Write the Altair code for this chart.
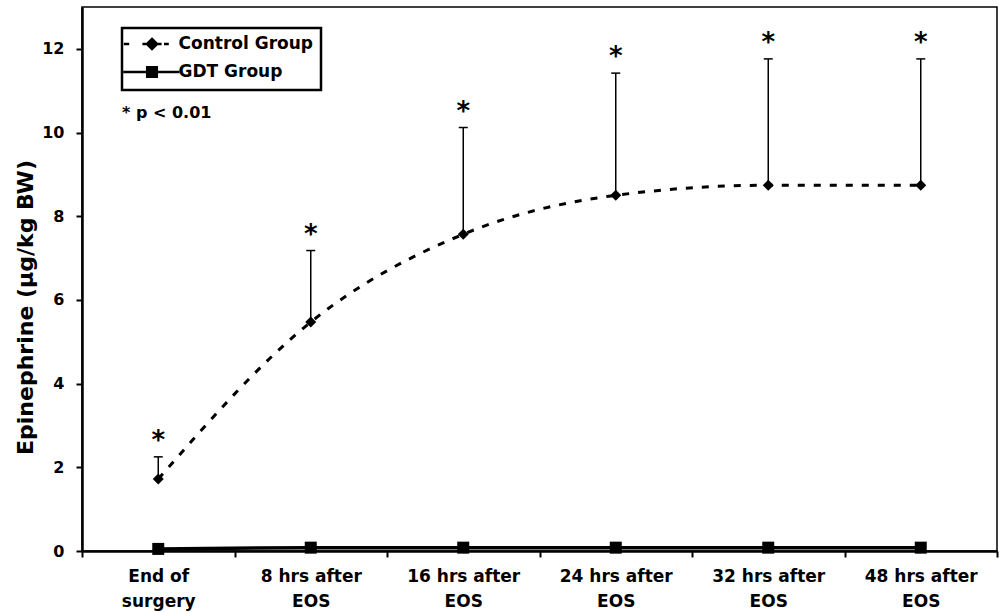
import altair as alt
import pandas as pd

categories = ["End of\nsurgery", "8 hrs after\nEOS", "16 hrs after\nEOS",
              "24 hrs after\nEOS", "32 hrs after\nEOS", "48 hrs after\nEOS"]
control_mean = [1.72, 5.47, 7.57, 8.50, 8.74, 8.74]
control_upper = [2.25, 7.18, 10.12, 11.42, 11.76, 11.76]
gdt_mean = [0.05, 0.08, 0.08, 0.08, 0.08, 0.08]
series_names = ["Control Group", "GDT Group"]
y_ticks = [0, 2, 4, 6, 8, 10, 12]
annotation = "* p < 0.01"

FONT = "DejaVu Sans"

ctrl = pd.DataFrame({"cat": categories, "mean": control_mean, "upper": control_upper,
                     "series": series_names[0]})
gdt = pd.DataFrame({"cat": categories, "mean": gdt_mean, "series": series_names[1]})

xscale = alt.Scale(type="band", domain=categories, paddingInner=0, paddingOuter=0)
yscale = alt.Scale(domain=[0, 13], nice=False, zero=True)

x_axis = alt.Axis(title=None, tickBand="extent", tickSize=6, tickWidth=2, domainWidth=2.5,
                  labelExpr="isValid(datum.value) ? split(datum.value, '\\n') : ''",
                  labelAngle=0, labelPadding=11,
                  labelLineHeight=25, labelFontSize=17, labelBaseline="top")
y_axis = alt.Axis(values=y_ticks, grid=False, tickSize=6, tickWidth=2, domainWidth=2.5,
                  labelPadding=12, labelFontSize=16,
                  title="Epinephrine (µg/kg BW)", titleFontSize=22, titleFont=FONT,
                  titleFontWeight="bold", titleColor="black", titleX=-57, titleY=300,
                  titleAngle=-90, titleAlign="center", titleBaseline="middle")


def X(band=True):
    if band:
        return alt.X("cat:N", scale=xscale, sort=categories, axis=x_axis, bandPosition=0.5)
    return alt.X("cat:N", scale=xscale, sort=categories, axis=x_axis)


def Y(field):
    return alt.Y(field, scale=yscale, axis=y_axis)


ctrl_line = alt.Chart(ctrl).mark_line(color="black", strokeWidth=3, strokeDash=[7, 9],
                                      interpolate="monotone").encode(
    x=X(), y=Y("mean:Q"))

err_rule = alt.Chart(ctrl).mark_rule(color="black", strokeWidth=1.5).encode(
    x=X(), y=Y("mean:Q"), y2="upper:Q")

err_cap = alt.Chart(ctrl).mark_tick(color="black", thickness=1.5, size=9, opacity=1).encode(
    x=X(band=False), y=Y("upper:Q"))

stars = alt.Chart(ctrl).mark_text(text="*", font=FONT, fontSize=26, fontWeight="bold",
                                  color="black", baseline="alphabetic", dy=-8).encode(
    x=X(), y=Y("upper:Q"))

ctrl_pts = alt.Chart(ctrl).mark_point(shape="diamond", filled=True, color="black",
                                      size=120, opacity=1).encode(
    x=X(), y=Y("mean:Q"))

gdt_line = alt.Chart(gdt).mark_line(color="black", strokeWidth=3.5).encode(
    x=X(), y=Y("mean:Q"))

gdt_pts = alt.Chart(gdt).mark_point(shape="square", filled=True, color="black",
                                    size=144, opacity=1).encode(
    x=X(), y=Y("mean:Q"))

# legend symbols: custom stroked paths (line pieces + marker drawn as nested outlines)
path_ctrl = ("M-4.7,0H-3.8M-1.6,0H-1.0M0.95,0H1.6M2.0,0H2.8"
             "M0,-0.85L0.85,0L0,0.85L-0.85,0Z"
             "M0,-0.45L0.45,0L0,0.45L-0.45,0Z"
             "M-0.2,0H0.2")
path_gdt = ("M-4.8,0H4.6"
            "M-0.8,-0.8H0.8V0.8H-0.8Z"
            "M-0.4,-0.4H0.4V0.4H-0.4Z")
legend_df = pd.concat([ctrl[["cat", "series"]], gdt[["cat", "series"]]])
legend_layer = alt.Chart(legend_df).mark_point(filled=False, color="black",
                                               strokeWidth=2.5, opacity=1, size=144).encode(
    x=X(), y=alt.value(0),
    shape=alt.Shape("series:N",
                    scale=alt.Scale(domain=series_names, range=[path_ctrl, path_gdt]),
                    legend=alt.Legend(title=None, orient="none", legendX=40, legendY=21,
                                      strokeColor="black", padding=7.5, rowPadding=7,
                                      symbolOffset=14, labelOffset=18, symbolSize=144,
                                      symbolStrokeWidth=2.5, symbolStrokeColor="black",
                                      labelFont=FONT, labelFontSize=17,
                                      labelFontWeight="bold", labelColor="black")),
).transform_filter("false")

note = alt.Chart(pd.DataFrame({"t": [annotation]})).mark_text(
    font=FONT, fontSize=16, fontWeight="bold", color="black", align="left",
    baseline="middle").encode(text="t:N", x=alt.value(40), y=alt.value(106))

chart = alt.layer(ctrl_line, gdt_line, err_rule, err_cap, stars, ctrl_pts, gdt_pts,
                  legend_layer, note).properties(
    width=915, height=544,
    padding={"left": 82, "top": 7, "right": 2, "bottom": 61},
    autosize=alt.AutoSizeParams(type="none"),
).configure_view(stroke="black", strokeWidth=1.5).configure_axis(
    labelFont=FONT, labelFontWeight="bold", labelColor="black",
    domainColor="black", tickColor="black",
).configure_legend(strokeWidth=2.5)

chart.save("out.html", embed_options={"renderer": "svg", "actions": False})
